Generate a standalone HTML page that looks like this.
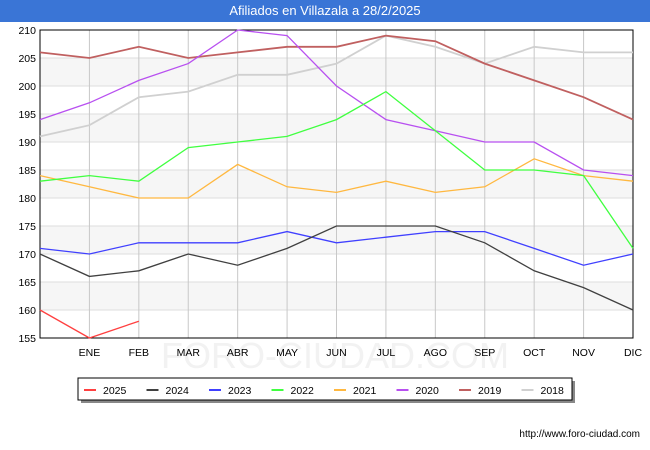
<!DOCTYPE html>
<html><head><meta charset="utf-8"><style>
body{margin:0;width:650px;height:450px;background:#fff;font-family:"Liberation Sans","DejaVu Sans",sans-serif;overflow:hidden}
#title{position:absolute;left:0;top:0;width:650px;height:22px;background:#3a75d6;color:#fff;font-size:13px;text-align:center;line-height:22px}
</style></head><body>
<div id="title">Afiliados en Villazala a 28/2/2025</div>
<svg id="chart" width="650" height="450" style="position:absolute;left:0;top:0"></svg>
<script>
const months=["","ENE","FEB","MAR","ABR","MAY","JUN","JUL","AGO","SEP","OCT","NOV","DIC"];
const yTicks=[155,160,165,170,175,180,185,190,195,200,205,210];
const seriesNames=["2025","2024","2023","2022","2021","2020","2019","2018"];
const seriesColors=["#ff4040","#404040","#4040ff","#40ff40","#ffb840","#b850f0","#c06060","#d0d0d0"];
const s2025=[160,155,158];
const s2024=[170,166,167,170,168,171,175,175,175,172,167,164,160];
const s2023=[171,170,172,172,172,174,172,173,174,174,171,168,170];
const s2022=[183,184,183,189,190,191,194,199,192,185,185,184,171];
const s2021=[184,182,180,180,186,182,181,183,181,182,187,184,183];
const s2020=[194,197,201,204,210,209,200,194,192,190,190,185,184];
const s2019=[206,205,207,205,206,207,207,209,208,204,201,198,194];
const s2018=[191,193,198,199,202,202,204,209,207,204,207,206,206];
const allSeries=[s2025,s2024,s2023,s2022,s2021,s2020,s2019,s2018];
const L=40,R=633,T=30,B=338,ymin=155,ymax=210;
const xs=i=>L+i*(R-L)/12;
const ys=v=>B-(v-ymin)*(B-T)/(ymax-ymin);
const svg=document.getElementById('chart');
const NS="http://www.w3.org/2000/svg";
function mk(t,a,p){const e=document.createElementNS(NS,t);for(const k in a)e.setAttribute(k,a[k]);(p||svg).appendChild(e);return e;}
for(let i=0;i<yTicks.length-1;i++){
 if(i%2==1){const r=mk('rect',{x:L,y:ys(yTicks[i+1]),width:R-L,height:ys(yTicks[i])-ys(yTicks[i+1]),fill:'#f6f6f6'});
 }
}
const wm=mk('text',{x:335,y:368,'text-anchor':'middle','font-size':36,fill:'#f2f2f2'});wm.textContent='FORO-CIUDAD.COM';

yTicks.forEach(v=>{
 const l=mk('line',{x1:L,x2:R,y1:ys(v),y2:ys(v),stroke:'#dddddd','stroke-width':1});
 
 const t=mk('text',{x:L-4,y:ys(v)+4,'text-anchor':'end','font-size':10.5,fill:'#000'});t.textContent=v;
 
});
months.forEach((m,i)=>{
 if(i>0){const l=mk('line',{x1:xs(i),x2:xs(i),y1:T,y2:B,stroke:'#c8c8c8','stroke-width':1});
 }
 const t=mk('text',{x:xs(i),y:B+18,'text-anchor':'middle','font-size':10.5,fill:'#000'});t.textContent=m;
 
});
const fr=mk('rect',{x:L,y:T,width:R-L,height:B-T,fill:'none',stroke:'#000','stroke-width':1});

for(let k=allSeries.length-1;k>=0;k--){
 const d=allSeries[k].map((v,i)=>(i?'L':'M')+xs(i)+','+ys(v)).join(' ');
 const p=mk('path',{d:d,fill:'none',stroke:seriesColors[k],'stroke-width':k>=6?1.8:1.3});
 
}
const lg=mk('g',{});
mk('rect',{x:81,y:381,width:494,height:22,fill:'#888'},lg);
mk('rect',{x:78,y:378,width:494,height:22,fill:'#fff',stroke:'#000','stroke-width':1},lg);
seriesNames.forEach((n,k)=>{
 const x0=84+k*62.5;
 const g=mk('g',{},lg);
 mk('line',{x1:x0,x2:x0+12,y1:390,y2:390,stroke:seriesColors[k],'stroke-width':2},g);
 const t=mk('text',{x:x0+19,y:394,'font-size':10.5,fill:'#000'},g);t.textContent=n;
});
const u=mk('text',{x:640,y:437,'text-anchor':'end','font-size':10,fill:'#000'});u.textContent='http://www.foro-ciudad.com';

</script>
</body></html>
